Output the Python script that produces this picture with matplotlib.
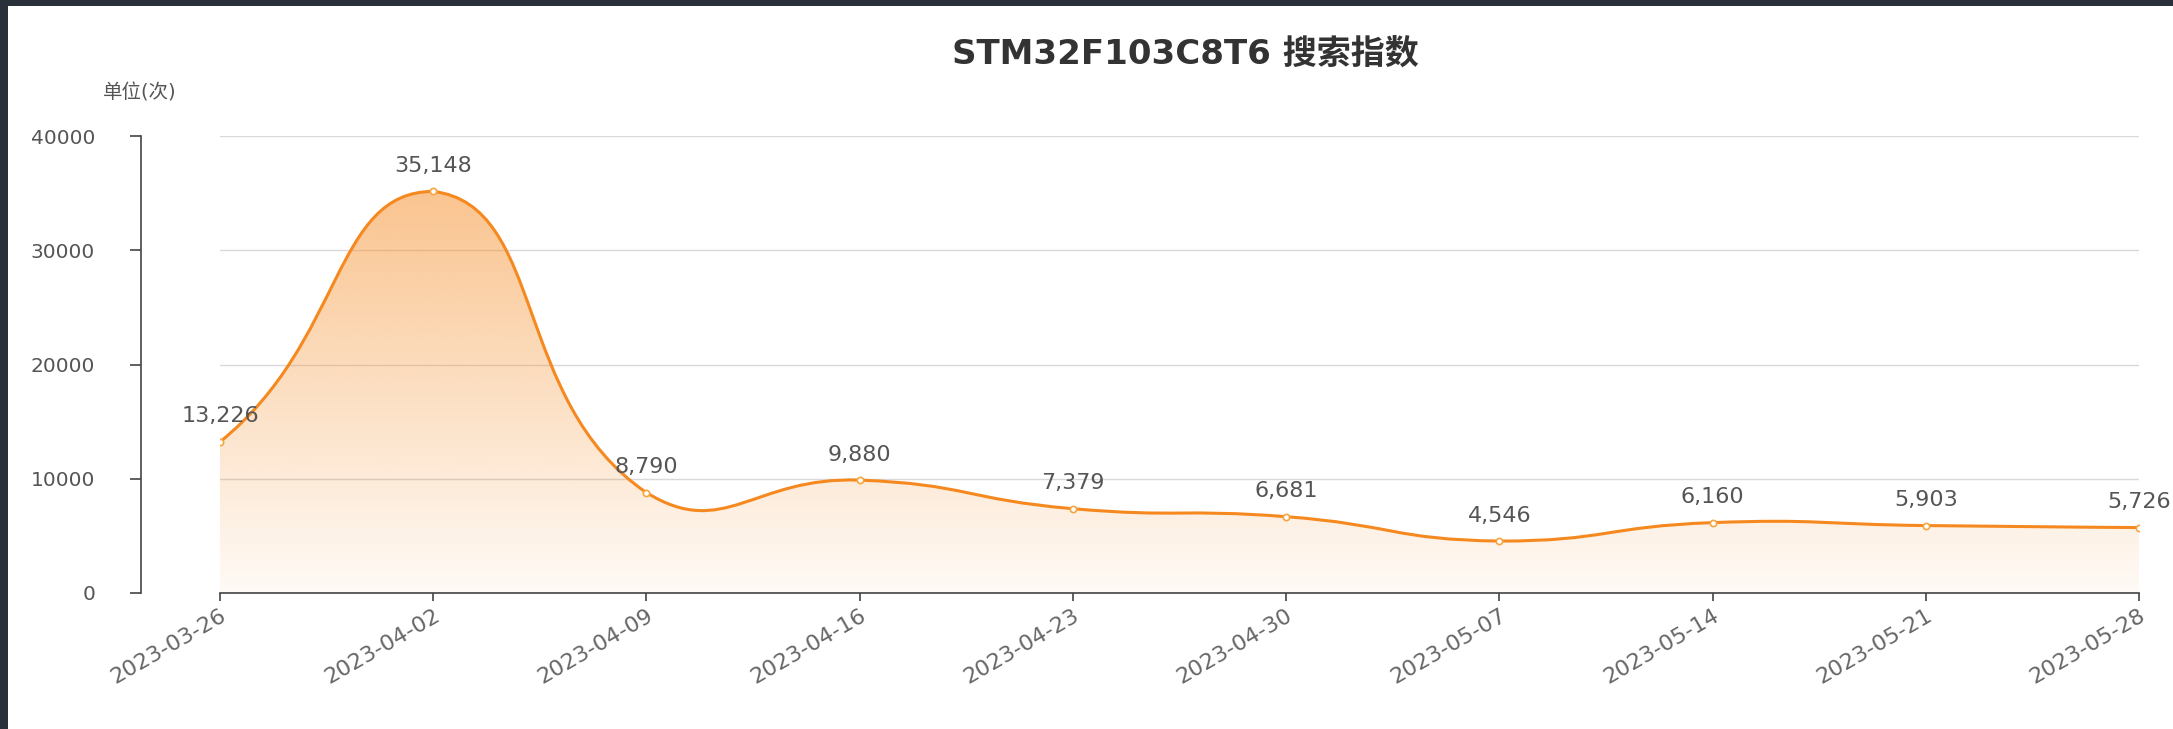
import numpy as np
import matplotlib.pyplot as plt
from matplotlib.path import Path
from matplotlib.patches import PathPatch, Rectangle

plt.rcParams['font.family'] = ['DejaVu Sans', 'Noto Sans CJK SC']

dates = ["2023-03-26", "2023-04-02", "2023-04-09", "2023-04-16", "2023-04-23",
         "2023-04-30", "2023-05-07", "2023-05-14", "2023-05-21", "2023-05-28"]
values = [13226, 35148, 8790, 9880, 7379, 6681, 4546, 6160, 5903, 5726]
y_ticks = [0, 10000, 20000, 30000, 40000]

title = "STM32F103C8T6 搜索指数"
unit_label = "单位(次)"

line_color = "#f5891f"
W, H = 2173, 729

fig = plt.figure(figsize=(W / 100, H / 100), dpi=100)
ax = fig.add_axes([220 / W, 1 - 593 / H, (2139 - 220) / W, (593 - 136) / H])

x = np.arange(len(values))
ax.set_xlim(0, len(values) - 1)
ax.set_ylim(0, 40000)

# echarts-like smooth line (smooth = 0.5, control points kept inside the data box)
pts = ax.transData.transform(np.column_stack([x, values]))
lo, hi = pts.min(axis=0), pts.max(axis=0)
smooth = 0.5
lead = (0.585, 0.81)  # first handle: share of x step, slope in pixels
step = pts[1][0] - pts[0][0]
cp = pts[0] + np.array([lead[0] * step, lead[0] * step * lead[1]])
verts = [pts[0]]
codes = [Path.MOVETO]
n = len(pts)
for k in range(1, n):
    p = pts[k]
    prev = pts[k - 1]
    if k == n - 1:
        cp_in = p
        v = np.zeros(2)
        ratio = 0.5
    else:
        nxt = pts[k + 1]
        v = nxt - prev
        l0 = np.hypot(*(p - prev))
        l1 = np.hypot(*(nxt - p))
        ratio = l1 / (l0 + l1)
        cp_in = p - v * smooth * (1 - ratio)
    verts += [np.clip(cp, lo, hi), np.clip(cp_in, lo, hi), p]
    codes += [Path.CURVE4] * 3
    cp = p + v * smooth * ratio

inv = ax.transData.inverted()
line_verts = inv.transform(np.array(verts))
line_path = Path(line_verts, codes)

area_verts = np.vstack([line_verts, [[x[-1], 0], [x[0], 0], [x[0], 0]]])
area_codes = codes + [Path.LINETO, Path.LINETO, Path.CLOSEPOLY]
area_path = Path(area_verts, area_codes)

# gradient fill under the curve
rgb = np.array([245, 137, 31]) / 255
grad = np.zeros((256, 2, 4))
grad[:, :, :3] = rgb
grad[:, :, 3] = np.linspace(0.5, 0.04, 256)[:, None]
im = ax.imshow(grad, extent=[x[0], x[-1], 0, max(values)], aspect='auto',
               origin='upper', zorder=1, interpolation='bilinear')
clip = PathPatch(area_path, facecolor='none', edgecolor='none')
ax.add_patch(clip)
im.set_clip_path(clip)

ax.add_patch(PathPatch(line_path, facecolor='none', edgecolor=line_color,
                       lw=2.2, zorder=3, capstyle='round', joinstyle='round'))
ax.plot(x, values, linestyle='none', marker='o', markersize=4.5,
        markerfacecolor='white', markeredgecolor='#f5a640', markeredgewidth=1.2, zorder=4)

for xi, v in zip(x, values):
    ax.annotate(f"{v:,}", (xi, v), xytext=(0, 14), textcoords='offset points',
                ha='center', va='baseline', fontsize=16, color='#555555', zorder=5)

ax.set_yticks(y_ticks)
ax.set_yticklabels([str(t) for t in y_ticks])
ax.set_xticks(x)
ax.set_xticklabels(dates, rotation=30, ha='right', rotation_mode='anchor')

ax.grid(axis='y', color='#d9d9d9', lw=1.0, zorder=0)
ax.set_axisbelow(True)
for s in ['top', 'right']:
    ax.spines[s].set_visible(False)
ax.spines['left'].set_position(('outward', 57))
ax.spines['left'].set_color('#444444')
ax.spines['bottom'].set_color('#444444')
ax.spines['left'].set_linewidth(1.2)
ax.spines['bottom'].set_linewidth(1.2)
ax.tick_params(axis='y', length=8, width=1.2, color='#444444', pad=25,
               labelsize=14.5, labelcolor='#555555')
ax.tick_params(axis='x', length=6, width=1.2, color='#444444', pad=3,
               labelsize=16, labelcolor='#666666')

fig.text(1185 / W, 1 - 54 / H, title, ha='center', va='center', fontsize=24.5,
         fontweight='bold', color='#333333')
fig.text(140 / W, 1 - 93 / H, unit_label, ha='center', va='center',
         fontsize=14, color='#555555')

# dark frame edges from the screenshot
fig.patches.append(Rectangle((0, 0), 8 / W, 1, transform=fig.transFigure,
                             facecolor='#2a303a', edgecolor='none'))
fig.patches.append(Rectangle((0, 1 - 6 / H), 1, 6 / H, transform=fig.transFigure,
                             facecolor='#2a303a', edgecolor='none'))

fig.savefig("out.png", dpi=100)
